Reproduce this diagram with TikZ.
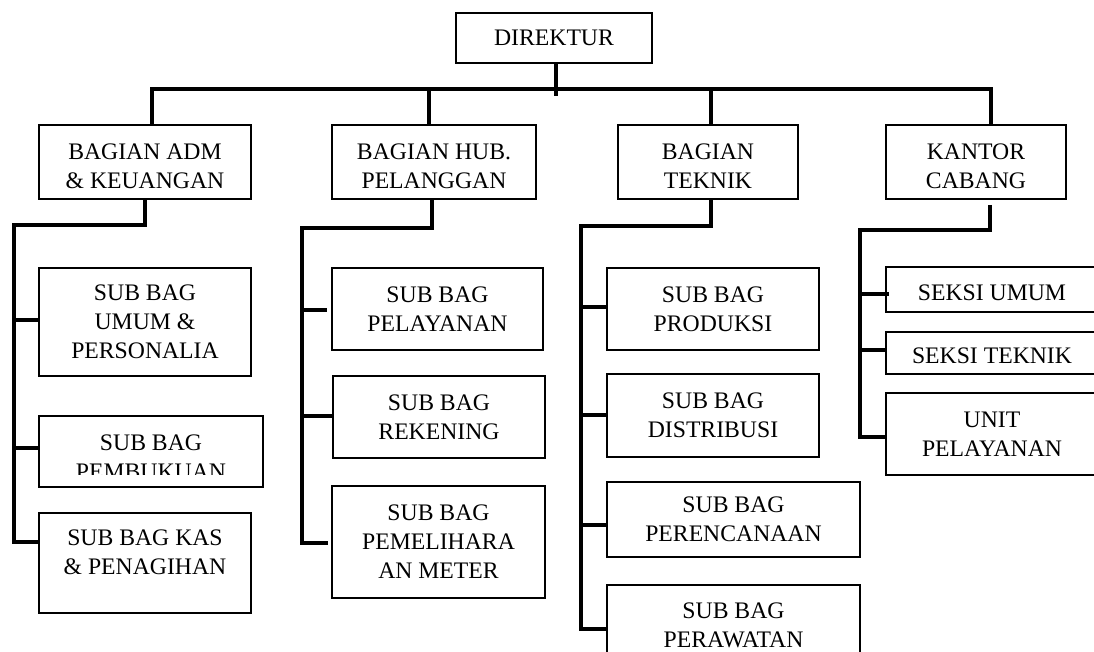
\documentclass[tikz,border=0pt]{standalone}
\usepackage{fontspec}
\setmainfont{Liberation Serif}
\newcommand\lwr[2]{\raisebox{-#1}[\height][\depth]{#2}}
\begin{document}
\begin{tikzpicture}[x=1pt,y=-1pt,
  box/.style={draw, line width=1.8pt, inner sep=0pt, align=center,
    font=\fontsize{23.7}{29}\selectfont},
  txt/.style={inner sep=0pt, align=center, font=\fontsize{23.7}{29}\selectfont},
  conn/.style={line width=3.6pt, line join=miter}]
\useasboundingbox (0,0) rectangle (1094,652);
\clip (0,0) rectangle (1094,652);
\fill[white] (0,0) rectangle (1094,652);

% top
\node[box, minimum width=196, minimum height=50] (dir) at (554,38) {DIREKTUR};
% level 1
\node[box, minimum width=212, minimum height=74] (adm) at (145,162) {\lwr{4pt}{BAGIAN ADM}\\\lwr{4pt}{\& KEUANGAN}};
\node[box, minimum width=204, minimum height=74] (hub) at (434,162) {\lwr{4pt}{BAGIAN HUB.}\\\lwr{4pt}{PELANGGAN}};
\node[box, minimum width=180, minimum height=74] (tek) at (708,162) {\lwr{4pt}{BAGIAN}\\\lwr{4pt}{TEKNIK}};
\node[box, minimum width=180, minimum height=74] (kan) at (976,162) {\lwr{4pt}{KANTOR}\\\lwr{4pt}{CABANG}};

% ADM subs
\node[box, minimum width=212, minimum height=108] (s11) at (145,322) {SUB BAG\\UMUM \&\\PERSONALIA};
\node[box, minimum width=224, minimum height=71] (s12) at (151,451.5) {};
\begin{scope}
  \clip (41,418) rectangle (261,474);
  \node[txt] (s12t) at (151,457) {SUB BAG\\PEMBUKUAN};
\end{scope}
\node[box, minimum width=212, minimum height=100] (s13) at (145,563) {};
\node[txt] (s13t) at (145,552.5) {SUB BAG KAS\\\& PENAGIHAN};

% HUB subs
\node[box, minimum width=211, minimum height=82] (s21) at (437.5,309) {SUB BAG\\PELAYANAN};
\node[box, minimum width=212, minimum height=82] (s22) at (439,417) {SUB BAG\\REKENING};
\node[box, minimum width=213, minimum height=112] (s23) at (438.5,542) {SUB BAG\\PEMELIHARA\\AN METER};

% TEKNIK subs
\node[box, minimum width=212, minimum height=82] (s31) at (713,309) {SUB BAG\\PRODUKSI};
\node[box, minimum width=212, minimum height=83] (s32) at (713,415.5) {SUB BAG\\DISTRIBUSI};
\node[box, minimum width=253, minimum height=75] (s33) at (733.5,519.5) {SUB BAG\\PERENCANAAN};
\node[box, minimum width=253, minimum height=80] (s34) at (733.5,625) {SUB BAG\\PERAWATAN};

% KANTOR subs
\node[box, minimum width=212, minimum height=45] (s41) at (992,289.5) {\lwr{3pt}{SEKSI UMUM}};
\node[box, minimum width=212, minimum height=42] (s42) at (992,353) {\lwr{3pt}{SEKSI TEKNIK}};
\node[box, minimum width=212, minimum height=82] (s43) at (992,434) {UNIT\\PELAYANAN};

% bus
\coordinate (dS) at (556,96);
\coordinate (bL) at (152,89);
\coordinate (bH) at (429,89);
\coordinate (bT) at (711,89);
\coordinate (bR) at (991,89);
\draw[conn] (dir.south -| dS) -- (dS);
\draw[conn] (adm.north -| bL) -- (bL) -- (bR) -- (kan.north -| bR);
\draw[conn] (bH) -- (hub.north -| bH);
\draw[conn] (bT) -- (tek.north -| bT);

% ADM spine
\coordinate (a0) at (14,225);
\coordinate (a1) at (14,320);
\coordinate (a2) at (14,448);
\coordinate (a3) at (14,542);
\draw[conn] (adm.south) -- (adm.south |- a0) -- (a0) -- (a3) -- (s13.west |- a3);
\draw[conn] (a1) -- (s11.west |- a1);
\draw[conn] (a2) -- (s12.west |- a2);

% HUB spine
\coordinate (hT) at (432,228);
\coordinate (h0) at (302,228);
\coordinate (h1) at (302,310);
\coordinate (h1e) at (327,310);
\coordinate (h2) at (302,416);
\coordinate (h3) at (302,543);
\coordinate (h3e) at (328,543);
\draw[conn] (hub.south -| hT) -- (hT) -- (h0) -- (h3) -- (h3e);
\draw[conn] (h1) -- (h1e);
\draw[conn] (h2) -- (s22.west |- h2);

% TEKNIK spine
\coordinate (tT) at (711,226);
\coordinate (t0) at (581,226);
\coordinate (t1) at (581,307);
\coordinate (t2) at (581,415);
\coordinate (t3) at (581,525);
\coordinate (t4) at (581,629);
\draw[conn] (tek.south -| tT) -- (tT) -- (t0) -- (t4) -- (s34.west |- t4);
\draw[conn] (t1) -- (s31.west |- t1);
\draw[conn] (t2) -- (s32.west |- t2);
\draw[conn] (t3) -- (s33.west |- t3);

% KANTOR spine
\coordinate (kS) at (990,205);
\coordinate (kT) at (990,230);
\coordinate (k0) at (860,230);
\coordinate (k1) at (860,294);
\coordinate (k1e) at (889,294);
\coordinate (k2) at (860,350);
\coordinate (k3) at (860,437);
\draw[conn] (kS) -- (kT) -- (k0) -- (k3) -- (s43.west |- k3);
\draw[conn] (k1) -- (k1e);
\draw[conn] (k2) -- (s42.west |- k2);
\end{tikzpicture}
\end{document}
